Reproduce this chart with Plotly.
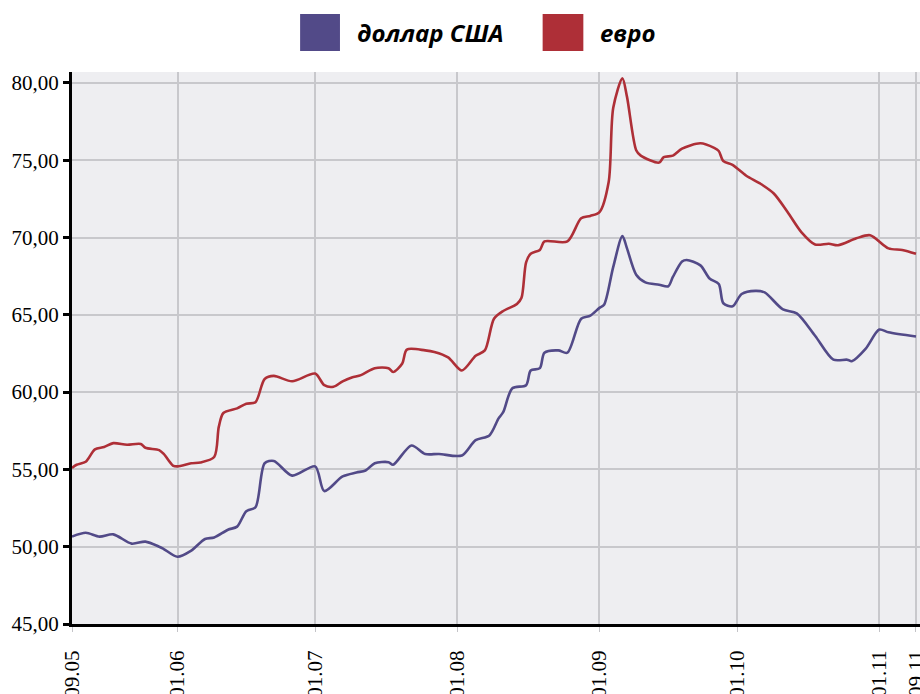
import plotly.graph_objects as go

# --- data ---
usd_dates = ["2015-05-09", "2015-05-12", "2015-05-15", "2015-05-18", "2015-05-22", "2015-05-25",
             "2015-05-28", "2015-05-29", "2015-06-01", "2015-06-04", "2015-06-07", "2015-06-09",
             "2015-06-12", "2015-06-14", "2015-06-16", "2015-06-18", "2015-06-20", "2015-06-22",
             "2015-06-26", "2015-07-01", "2015-07-03", "2015-07-07", "2015-07-10", "2015-07-12",
             "2015-07-14", "2015-07-17", "2015-07-18", "2015-07-22", "2015-07-25", "2015-07-28",
             "2015-08-02", "2015-08-05", "2015-08-08", "2015-08-10", "2015-08-11", "2015-08-13",
             "2015-08-16", "2015-08-17", "2015-08-19", "2015-08-20", "2015-08-23", "2015-08-25",
             "2015-08-28", "2015-08-30", "2015-09-01", "2015-09-02", "2015-09-04", "2015-09-06",
             "2015-09-07", "2015-09-09", "2015-09-11", "2015-09-14", "2015-09-16", "2015-09-17",
             "2015-09-19", "2015-09-20", "2015-09-23", "2015-09-25", "2015-09-27", "2015-09-28",
             "2015-09-30", "2015-10-02", "2015-10-05", "2015-10-07", "2015-10-11", "2015-10-14",
             "2015-10-18", "2015-10-22", "2015-10-25", "2015-10-26", "2015-10-29", "2015-11-01",
             "2015-11-03", "2015-11-09"]
usd_values = [50.65, 50.9, 50.65, 50.8, 50.2, 50.33,
              50.0, 49.85, 49.35, 49.75, 50.5, 50.6,
              51.1, 51.3, 52.3, 52.55, 55.4, 55.55,
              54.6, 55.2, 53.6, 54.55, 54.8, 54.93,
              55.4, 55.47, 55.3, 56.55, 56.0, 56.0,
              55.9, 56.9, 57.2, 58.3, 58.7, 60.25,
              60.45, 61.4, 61.55, 62.55, 62.7, 62.55,
              64.75, 64.95, 65.45, 65.65, 68.1, 70.1,
              69.3, 67.6, 67.1, 66.95, 66.85, 67.45,
              68.45, 68.55, 68.2, 67.35, 67.0, 65.75,
              65.55, 66.35, 66.55, 66.45, 65.35, 65.1,
              63.65, 62.1, 62.1, 62.0, 62.8, 64.05,
              63.87, 63.6]

eur_dates = ["2015-05-09", "2015-05-10", "2015-05-12", "2015-05-14", "2015-05-16", "2015-05-18",
             "2015-05-21", "2015-05-24", "2015-05-25", "2015-05-28", "2015-05-29", "2015-05-31",
             "2015-06-01", "2015-06-04", "2015-06-06", "2015-06-09", "2015-06-10", "2015-06-11",
             "2015-06-14", "2015-06-16", "2015-06-18", "2015-06-20", "2015-06-22", "2015-06-26",
             "2015-07-01", "2015-07-03", "2015-07-05", "2015-07-07", "2015-07-09", "2015-07-11",
             "2015-07-14", "2015-07-17", "2015-07-18", "2015-07-20", "2015-07-21", "2015-07-25",
             "2015-07-27", "2015-07-30", "2015-08-02", "2015-08-05", "2015-08-07", "2015-08-09",
             "2015-08-11", "2015-08-14", "2015-08-15", "2015-08-16", "2015-08-17", "2015-08-19",
             "2015-08-20", "2015-08-25", "2015-08-28", "2015-08-30", "2015-09-01", "2015-09-03",
             "2015-09-04", "2015-09-06", "2015-09-07", "2015-09-09", "2015-09-10", "2015-09-14",
             "2015-09-15", "2015-09-17", "2015-09-19", "2015-09-23", "2015-09-26", "2015-09-27",
             "2015-09-28", "2015-09-30", "2015-10-03", "2015-10-06", "2015-10-09", "2015-10-12",
             "2015-10-15", "2015-10-18", "2015-10-21", "2015-10-23", "2015-10-27", "2015-10-30",
             "2015-11-03", "2015-11-06", "2015-11-09"]
eur_values = [55.1, 55.3, 55.5, 56.3, 56.45, 56.7,
              56.6, 56.65, 56.4, 56.25, 56.0, 55.25,
              55.2, 55.4, 55.45, 55.8, 57.75, 58.65,
              58.95, 59.25, 59.35, 60.85, 61.05, 60.7,
              61.2, 60.45, 60.35, 60.7, 60.95, 61.1,
              61.55, 61.55, 61.3, 61.85, 62.75, 62.7,
              62.6, 62.25, 61.4, 62.35, 62.7, 64.75,
              65.25, 65.7, 66.1, 68.4, 68.95, 69.2,
              69.75, 69.75, 71.25, 71.4, 71.65, 73.6,
              78.4, 80.3, 79.1, 75.65, 75.3, 74.85,
              75.2, 75.3, 75.75, 76.1, 75.8, 75.6,
              74.95, 74.7, 74.0, 73.5, 72.85, 71.65,
              70.35, 69.55, 69.6, 69.5, 69.95, 70.15,
              69.3, 69.2, 68.95]

tick_dates = ["2015-05-09", "2015-06-01", "2015-07-01", "2015-08-01",
              "2015-09-01", "2015-10-01", "2015-11-01", "2015-11-09"]
tick_labels = ["09.05", "01.06", "01.07", "01.08", "01.09", "01.10", "01.11", "09.11"]
y_ticks = [45, 50, 55, 60, 65, 70, 75, 80]

series_names = ["доллар США", "евро"]
BLUE = "#524a88"
RED = "#ae2f37"

fig = go.Figure()
fig.add_trace(go.Scatter(x=usd_dates, y=usd_values, mode="lines", name=series_names[0],
                         line=dict(color=BLUE, width=2.6, shape="spline", smoothing=0.8),
                         showlegend=False))
fig.add_trace(go.Scatter(x=eur_dates, y=eur_values, mode="lines", name=series_names[1],
                         line=dict(color=RED, width=2.6, shape="spline", smoothing=0.8),
                         showlegend=False))

# manual legend (big squares + bold italic labels)
legend_items = [(series_names[0], BLUE, 0.269, 0.316, 0.334),
                (series_names[1], RED, 0.555, 0.603, 0.620)]
for name, col, x0, x1, xt in legend_items:
    fig.add_shape(type="rect", xref="paper", yref="paper", x0=x0, x1=x1, y0=1.038, y1=1.105,
                  fillcolor=col, line=dict(width=0))
    fig.add_annotation(xref="paper", yref="paper", x=xt, y=1.071, xanchor="left", yanchor="middle",
                       text="<b><i>" + name + "</i></b>", showarrow=False,
                       font=dict(family="Open Sans", size=24, color="black"))

fig.update_layout(
    width=920, height=694,
    margin=dict(l=72, r=0, t=72, b=70),
    paper_bgcolor="white",
    plot_bgcolor="#eeeef1",
    separators=", ",
    font=dict(family="Liberation Serif", size=21, color="black"),
    xaxis=dict(
        type="date",
        automargin=False,
        range=["2015-05-09", "2015-11-09 21:00"],
        tickvals=tick_dates, ticktext=tick_labels,
        tickangle=-90,
        ticklabeloverflow="allow",
        ticks="outside", ticklen=5, tickwidth=1, tickcolor="#c4c4c8",
        ticklabelstandoff=10,
        showgrid=True, gridcolor="#c8c8cc", gridwidth=1.5,
        showline=True, linecolor="black", linewidth=3,
        tickfont=dict(family="Liberation Serif", size=21, color="black"),
        zeroline=False,
    ),
    yaxis=dict(
        automargin=False,
        range=[45, 80.71],
        tickvals=y_ticks,
        tickformat=".2f",
        ticks="outside", ticklen=6, tickwidth=3, tickcolor="black",
        showgrid=True, gridcolor="#c8c8cc", gridwidth=1.5,
        showline=True, linecolor="black", linewidth=3,
        tickfont=dict(family="Liberation Serif", size=21, color="black"),
        zeroline=False,
    ),
)

fig.write_html("out.html",
               config={"displayModeBar": False},
               post_script="document.body.style.margin='0';document.body.style.overflow='hidden';")
